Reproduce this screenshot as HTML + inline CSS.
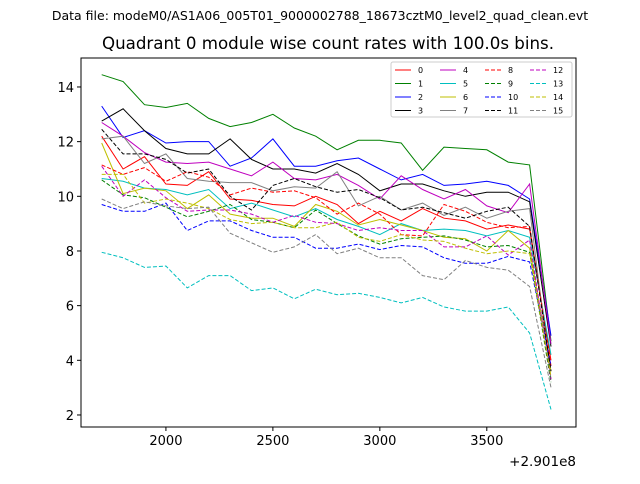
<!DOCTYPE html>
<html><head><meta charset="utf-8"><style>
body{margin:0;background:#fff;width:640px;height:480px;overflow:hidden;font-family:"DejaVu Sans",sans-serif}
</style></head><body>
<svg id="chart" width="640" height="480" xmlns="http://www.w3.org/2000/svg" font-family="DejaVu Sans, sans-serif">
<text x="320" y="20" font-size="12.5" text-anchor="middle">Data file: modeM0/AS1A06_005T01_9000002788_18673cztM0_level2_quad_clean.evt</text>
<text x="328" y="49" font-size="16.67" text-anchor="middle">Quadrant 0 module wise count rates with 100.0s bins.</text>
<g id="plot"></g>
<rect x="81" y="58" width="495" height="369" fill="none" stroke="#000" stroke-width="1"/>
<text x="576" y="466" font-size="13.5" text-anchor="end">+2.901e8</text>
<g id="legend"></g>
</svg>
<script>
const xs=[1700,1800,1900,2000,2100,2200,2300,2400,2500,2600,2700,2800,2900,3000,3100,3200,3300,3400,3500,3600,3700,3800];
const xTicks=[2000,2500,3000,3500];
const yTicks=[2,4,6,8,10,12,14];
const s0=[12.2,11.0,11.45,10.45,10.4,10.9,9.9,9.85,9.7,9.65,10.0,9.7,9.0,9.45,9.1,9.55,9.2,9.1,8.8,8.95,8.8,4.0];
const s1=[14.45,14.2,13.35,13.25,13.4,12.85,12.55,12.7,13.0,12.5,12.2,11.7,12.05,12.05,11.95,10.95,11.8,11.75,11.7,11.25,11.15,4.7];
const s2=[13.3,12.15,12.4,11.95,12.0,12.0,11.1,11.4,12.1,11.1,11.1,11.3,11.4,11.0,10.6,10.8,10.4,10.45,10.55,10.4,9.9,4.9];
const s3=[12.75,13.2,12.4,11.75,11.55,11.55,12.1,11.35,11.0,11.0,10.85,11.2,10.8,10.2,10.45,10.45,10.2,10.0,10.15,10.15,9.8,4.5];
const s4=[12.7,12.2,11.6,11.25,11.2,11.25,11.0,10.75,11.25,10.65,10.6,10.8,10.4,9.9,10.75,10.25,9.9,10.25,9.65,9.4,10.45,4.6];
const s5=[10.65,10.55,10.3,10.25,10.05,10.25,9.55,9.75,9.5,9.25,9.55,9.15,8.9,8.6,9.0,8.75,8.8,8.75,8.55,8.75,8.5,4.2];
const s6=[11.95,10.1,10.3,10.2,9.55,10.05,9.35,9.2,9.2,8.9,9.7,9.45,8.95,9.15,8.95,8.75,8.5,8.45,8.0,8.75,8.1,3.6];
const s7=[12.1,12.2,11.2,11.55,10.65,10.55,10.5,10.5,10.2,10.35,10.3,10.9,9.65,10.0,9.5,9.75,9.3,9.6,9.2,9.45,9.55,3.3];
const s8=[11.15,10.8,11.05,10.55,10.9,10.7,10.05,10.3,10.15,10.2,9.95,9.35,9.75,9.35,8.6,8.55,9.7,9.45,9.05,8.85,8.9,3.8];
const s9=[10.6,10.05,9.95,9.6,9.25,9.45,9.7,9.15,9.05,8.85,9.5,9.0,8.55,8.25,8.45,8.5,8.55,8.4,8.15,8.2,7.95,3.2];
const s10=[9.7,9.45,9.45,9.75,8.75,9.1,9.1,8.75,8.5,8.5,8.1,8.1,8.25,8.05,8.2,8.15,7.75,7.55,7.55,7.8,7.6,3.8];
const s11=[12.45,11.55,11.55,11.35,10.85,11.0,10.0,9.5,10.4,10.65,10.35,10.15,10.25,9.95,9.5,9.6,9.4,9.2,9.45,9.6,8.9,3.6];
const s12=[11.1,10.0,10.6,9.95,9.45,9.5,9.5,9.35,9.05,9.3,9.05,9.0,8.75,8.85,8.75,8.75,8.15,8.15,8.55,7.85,8.4,3.3];
const s13=[7.95,7.75,7.4,7.45,6.65,7.1,7.1,6.55,6.65,6.25,6.6,6.4,6.45,6.3,6.1,6.3,5.95,5.8,5.8,5.95,5.0,2.2];
const s14=[10.8,10.8,9.75,9.9,9.75,9.55,9.15,9.0,9.05,8.85,8.85,9.05,8.5,8.35,8.6,8.4,8.35,8.1,7.9,8.0,7.9,3.4];
const s15=[9.9,9.55,9.8,9.65,9.55,9.6,8.65,8.3,7.95,8.15,8.6,7.9,8.1,7.75,7.75,7.1,6.95,7.65,7.4,7.3,6.7,3.0];
const series=[s0,s1,s2,s3,s4,s5,s6,s7,s8,s9,s10,s11,s12,s13,s14,s15];
const colors=['#ff0000','#008000','#0000ff','#000000','#bf00bf','#00bfbf','#bfbf00','#808080'];
const X0=81,X1=576,Y0=58,Y1=427,xmin=1603,xmax=3917,ymin=1.56,ymax=15.06;
function sx(v){return X0+(v-xmin)/(xmax-xmin)*(X1-X0);}
function sy(v){return Y1-(v-ymin)/(ymax-ymin)*(Y1-Y0);}
const NS='http://www.w3.org/2000/svg';
const plot=document.getElementById('plot');
function mk(tag,attrs,parent){const e=document.createElementNS(NS,tag);for(const k in attrs)e.setAttribute(k,attrs[k]);parent.appendChild(e);return e;}
xTicks.forEach(t=>{
  const l=mk('line',{x1:sx(t),x2:sx(t),y1:Y1,y2:Y1+4,stroke:'#000'},plot);
  
  
  const tx=mk('text',{x:sx(t),y:Y1+18,'font-size':13,'text-anchor':'middle'},plot);tx.textContent=t;
  
  
});
yTicks.forEach(t=>{
  const l=mk('line',{x1:X0-4,x2:X0,y1:sy(t),y2:sy(t),stroke:'#000'},plot);
  
  
  const tx=mk('text',{x:X0-7,y:sy(t)+5,'font-size':13,'text-anchor':'end'},plot);tx.textContent=t;
  
  
});
series.forEach((s,i)=>{
  const pts=s.map((v,j)=>sx(xs[j]).toFixed(1)+','+sy(v).toFixed(1)).join(' ');
  const p=mk('polyline',{points:pts,fill:'none',stroke:colors[i%8],'stroke-width':1,'stroke-dasharray':i>=8?'4,2':'none'},plot);
  
  
});
const lg=document.getElementById('legend');
const box=mk('rect',{x:391,y:62,width:181,height:55,fill:'#fff',stroke:'#ccc','stroke-width':1,rx:2},lg);


series.forEach((s,i)=>{
  const c=Math.floor(i/4),r=i%4;
  const x=395+c*45,y=70+r*13.5;
  const l=mk('line',{x1:x,x2:x+16,y1:y,y2:y,stroke:colors[i%8],'stroke-width':1,'stroke-dasharray':i>=8?'4,2':'none'},lg);
  
  
  const t=mk('text',{x:x+23,y:y+3,'font-size':8},lg);t.textContent=i;
  
  
});
</script>
</body></html>
